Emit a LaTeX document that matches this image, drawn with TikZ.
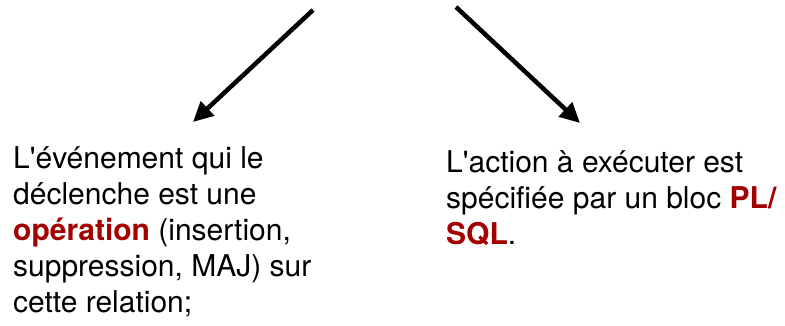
\documentclass[tikz,border=0pt]{standalone}
\usepackage{fontspec}
\newfontfamily\labelfont{TeX Gyre Heros}
\usetikzlibrary{arrows.meta}
\definecolor{keyred}{RGB}{163,0,0}
\newcommand{\keyword}[1]{\textcolor{keyred}{\bfseries #1}}
\begin{document}
\begin{tikzpicture}[x=1pt,y=-1pt,
  pointer/.style={line width=4.5pt,-{Triangle[length=20pt,width=19pt]}},
  blurb/.style={anchor=base west,inner sep=0pt,align=left,
    font=\labelfont\fontsize{30}{36}\selectfont}]
  \useasboundingbox (0,0) rectangle (785,325);
  % arrow ends
  \coordinate (lstart) at (313,10);
  \coordinate (lend) at (193,122);
  \coordinate (rstart) at (456,7);
  \coordinate (rend) at (580,123);
  \draw[pointer] (lstart) -- (lend);
  \draw[pointer] (rstart) -- (rend);
  % texts (anchored at the baseline of their last line)
  \node[blurb] (event) at (13,312) {L'événement qui le\\
    déclenche est une\\
    \keyword{opération} (insertion,\\
    suppression, MAJ) sur\\
    cette relation;};
  \node[blurb] (action) at (446,244) {L'action à exécuter est\\
    spécifiée par un bloc \keyword{PL/}\\
    \keyword{SQL}.};
\end{tikzpicture}
\end{document}
